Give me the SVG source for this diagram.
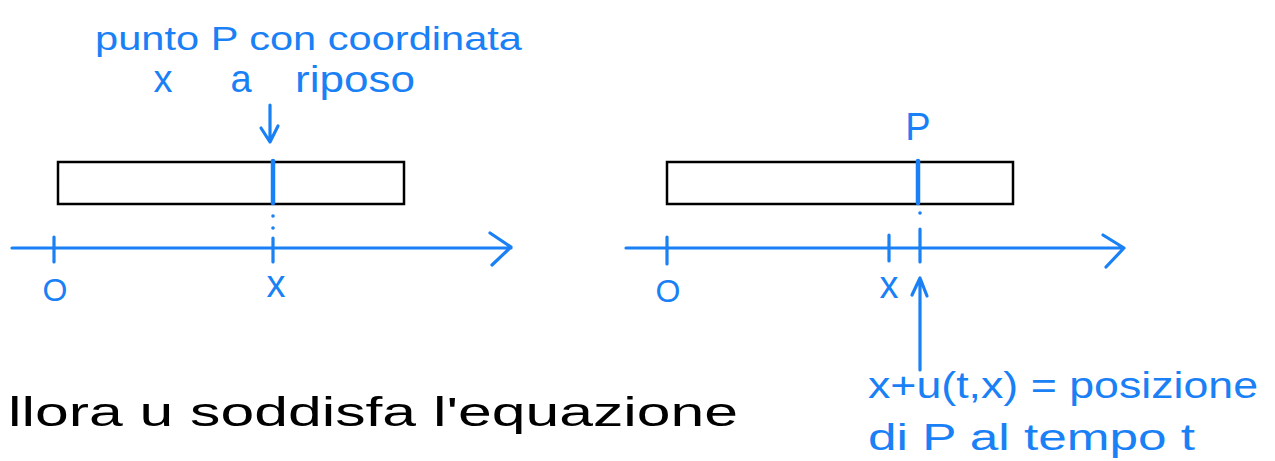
<svg xmlns="http://www.w3.org/2000/svg" width="1275" height="461" viewBox="0 0 1275 461">
<style>
.b{fill:#1a80f5;font-family:"Liberation Sans",sans-serif}
.k{fill:#000;font-family:"Liberation Sans",sans-serif}
.ax{stroke:#1a80f5;stroke-width:3.2;fill:none;stroke-linecap:round;stroke-linejoin:round}
.pt{stroke:#1a80f5;stroke-width:4.5;stroke-linecap:round}
.bar{fill:none;stroke:#000;stroke-width:2.5}
</style>
<rect width="1275" height="461" fill="#fff"/>
<g id="label-left">
<text class="b" x="95" y="50" font-size="34" textLength="427" lengthAdjust="spacingAndGlyphs">punto P con coordinata</text>
<text class="b" x="163" y="92" font-size="38" text-anchor="middle">x</text>
<text class="b" x="241" y="92" font-size="38" text-anchor="middle">a</text>
<text class="b" x="295" y="92" font-size="36" textLength="120" lengthAdjust="spacingAndGlyphs">riposo</text>
</g>
<g id="bar-left">
<rect class="bar" x="58" y="162" width="346" height="42"/>
<line class="pt" x1="273" y1="161" x2="273" y2="203"/>
</g>
<g id="bar-right">
<rect class="bar" x="667" y="162" width="346" height="42"/>
<line class="pt" x1="918" y1="161" x2="918" y2="203"/>
<text class="b" x="918" y="140" font-size="38" text-anchor="middle">P</text>
</g>
<g id="axis-left">
<path class="ax" d="M12 248 H511 M490 233 L511 247 L492 265"/>
<path class="ax" d="M54 237 V262 M273 238 V262"/>
<circle cx="273" cy="216" r="1.8" fill="#1a80f5"/>
<circle cx="273" cy="228" r="1.8" fill="#1a80f5"/>
<text class="b" x="55" y="301" font-size="32" text-anchor="middle">O</text>
<text class="b" x="276" y="297" font-size="38" text-anchor="middle">x</text>
</g>
<g id="axis-right">
<path class="ax" d="M626 248 H1124 M1103 235 L1124 248 L1106 267"/>
<path class="ax" d="M667 237 V264 M889 235 V261 M920 229 V262"/>
<circle cx="920" cy="213" r="1.8" fill="#1a80f5"/>
<text class="b" x="668" y="302" font-size="32" text-anchor="middle">O</text>
<text class="b" x="889" y="298" font-size="38" text-anchor="middle">x</text>
</g>
<g id="label-right">
<text class="b" x="868" y="398" font-size="36" textLength="390" lengthAdjust="spacingAndGlyphs">x+u(t,x) = posizione</text>
<text class="b" x="868" y="450" font-size="36" textLength="327" lengthAdjust="spacingAndGlyphs">di P al tempo t</text>
</g>
<g id="caption">
<text class="k" x="8" y="426" font-size="40" textLength="730" lengthAdjust="spacingAndGlyphs">llora  u  soddisfa  l'equazione</text>
</g>
<g id="connectors">
<path class="ax" d="M270 105 V142 M261 128 L270 142 L278 126"/>
<path class="ax" d="M920 370 V278 M912 295 L920 278 L927 296"/>
</g>
</svg>
